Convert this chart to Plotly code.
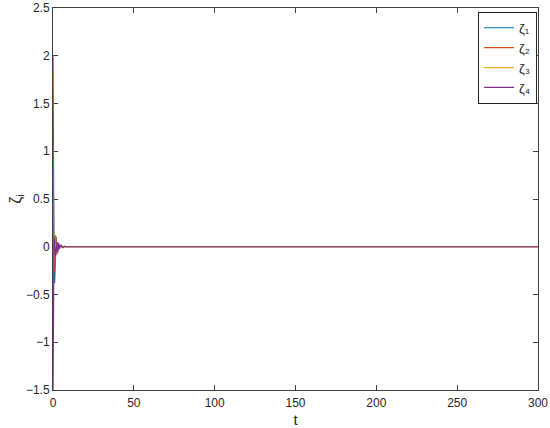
import plotly.graph_objects as go

# -- values ------------------------------------------------------------------
t = [0, 0.3, 0.6, 1.0, 1.5, 2.0, 2.5, 3.0, 3.5, 4.0, 5.0, 6.0, 7.0, 8.0, 10.0, 300]
zeta1 = [2.0, 0.45, -0.15, -0.38, 0.05, 0.10, -0.05, 0.03, -0.02, 0.01, 0.0, 0.0, 0.0, 0.0, 0.0, 0.0]
zeta2 = [1.07, 0.30, -0.10, -0.25, 0.12, 0.08, -0.08, 0.04, -0.03, 0.01, 0.0, 0.0, 0.0, 0.0, 0.0, 0.0]
zeta3 = [-0.20, -0.30, 0.05, 0.10, -0.06, 0.03, -0.02, 0.01, 0.0, 0.0, 0.0, 0.0, 0.0, 0.0, 0.0, 0.0]
zeta4 = [-1.60, -0.40, 0.10, 0.06, -0.10, -0.03, 0.05, -0.06, 0.04, -0.02, 0.02, -0.01, 0.005, 0.0, 0.0, 0.0]

names = ["ζ₁", "ζ₂", "ζ₃", "ζ₄"]
series = [zeta1, zeta2, zeta3, zeta4]
colors = ["#0072BD", "#D95319", "#EDB120", "#7E2F8E"]

fig = go.Figure()
for name, y, c in zip(names, series, colors):
    fig.add_trace(go.Scatter(x=t, y=y, mode="lines", name=name,
                             line=dict(color=c, width=1.2)))

axis_style = dict(
    showline=True, linecolor="#404040", linewidth=1, mirror="ticks",
    ticks="inside", ticklen=5, tickcolor="#404040",
    showgrid=False, zeroline=False, automargin=False,
    ticklabeloverflow="allow", layer="below traces",
    tickfont=dict(size=12, color="#262626"),
)

fig.update_layout(
    width=550, height=428,
    margin=dict(l=53, r=12, t=8, b=38),
    paper_bgcolor="white", plot_bgcolor="white",
    font=dict(family="Liberation Sans, Arial, sans-serif", color="#262626"),
    xaxis=dict(range=[0, 300], tickvals=[0, 50, 100, 150, 200, 250, 300],
               ticklabelstandoff=2,
               title=dict(text="t", font=dict(size=15)), **axis_style),
    yaxis=dict(range=[-1.5, 2.5], tickvals=[-1.5, -1, -0.5, 0, 0.5, 1, 1.5, 2, 2.5],
               ticktext=["−1.5", "−1", "−0.5", "0", "0.5", "1", "1.5", "2", "2.5"],
               title=dict(text="ζ<sub>i</sub>", font=dict(size=16), standoff=0), **axis_style),
    legend=dict(x=0.998, y=0.99, xanchor="right", yanchor="top",
                bordercolor="#262626", borderwidth=1, bgcolor="white",
                font=dict(size=13), tracegroupgap=0, itemwidth=30),
    showlegend=True,
)

# drop the default body margin so the figure sits at the window's corner
fig.write_html("out.html", config={"displayModeBar": False},
               post_script="document.body.style.margin='0';")
